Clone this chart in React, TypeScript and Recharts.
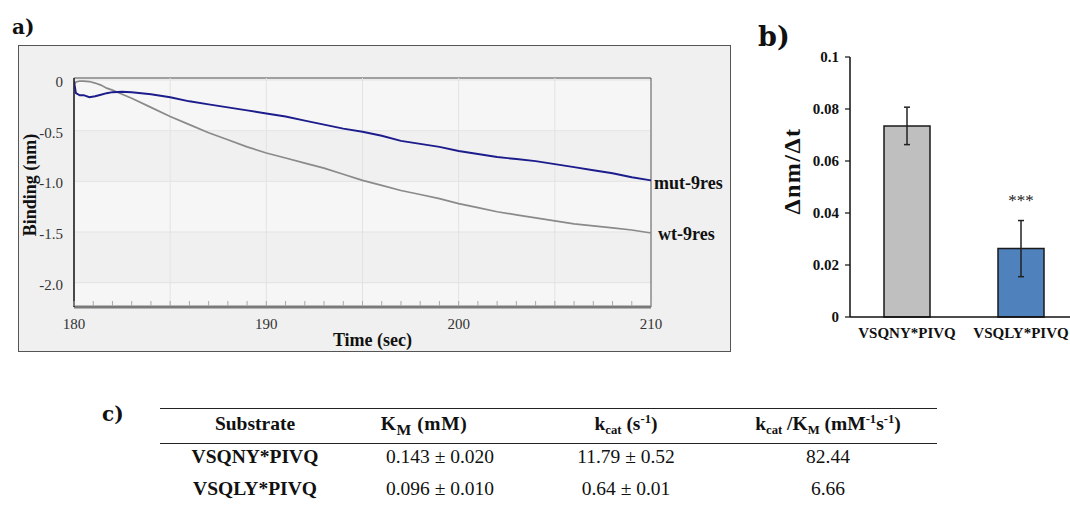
import React from 'react';
import {
  LineChart, Line, XAxis, YAxis, CartesianGrid, ReferenceLine, ReferenceArea,
  BarChart, Bar, Cell, ErrorBar, LabelList,
} from 'recharts';

const SERIF = '"Liberation Serif", "Times New Roman", serif';
const LETTER = '"DejaVu Serif", serif';

// ---------- Panel a: binding traces ----------
const timeSec = [180, 180.1, 180.3, 180.5, 180.8, 181.1, 181.4, 181.7, 182, 182.5, 183, 184,
  185, 186, 187, 188, 189, 190, 191, 192, 193, 194, 195, 196, 197, 198, 199, 200,
  201, 202, 203, 204, 205, 206, 207, 208, 209, 210];
const wtBinding = [-0.04, -0.02, -0.01, -0.01, -0.015, -0.03, -0.05, -0.08, -0.1, -0.14, -0.18, -0.27,
  -0.36, -0.44, -0.52, -0.59, -0.66, -0.72, -0.77, -0.82, -0.87, -0.93, -0.99, -1.04, -1.09, -1.13, -1.17, -1.22,
  -1.26, -1.3, -1.33, -1.36, -1.39, -1.42, -1.44, -1.46, -1.48, -1.51];
const mutBinding = [-0.01, -0.13, -0.15, -0.15, -0.17, -0.16, -0.145, -0.13, -0.12, -0.115, -0.12, -0.14,
  -0.17, -0.21, -0.24, -0.27, -0.3, -0.33, -0.36, -0.4, -0.44, -0.48, -0.51, -0.55, -0.6, -0.63, -0.66, -0.7,
  -0.73, -0.76, -0.78, -0.8, -0.83, -0.86, -0.89, -0.92, -0.96, -0.99];
const seriesNames = ['wt-9res', 'mut-9res'];
const bindingTicks = [0, -0.5, -1, -1.5, -2];
const timeMajorTicks = [180, 190, 200, 210];
const timeMinorTicks = [180, 181, 182, 183, 184, 185, 186, 187, 188, 189, 190, 191, 192, 193, 194, 195,
  196, 197, 198, 199, 200, 201, 202, 203, 204, 205, 206, 207, 208, 209, 210];
const timeGridLines = [185, 190, 195, 200, 205];

// ---------- Panel b: rates ----------
const substrates = ['VSQNY*PIVQ', 'VSQLY*PIVQ'];
const rates = [0.0735, 0.0263];
const rateErrors = [0.0072, 0.0108];
const significance = ['', '***'];
const barColors = ['#bfbfbf', '#4f81bd'];
const rateTicks = [0, 0.02, 0.04, 0.06, 0.08, 0.1];

// ---------- Panel c: kinetics table ----------
const kmValues = ['0.143 ± 0.020', '0.096 ± 0.010'];
const kcatValues = ['11.79 ± 0.52', '0.64 ± 0.01'];
const efficiencyValues = ['82.44', '6.66'];

const lineData = timeSec.map((t, i) => ({ t, wt: wtBinding[i], mut: mutBinding[i] }));
const barData = substrates.map((name, i) => ({ name, rate: rates[i], err: rateErrors[i], sig: significance[i] }));

const Y_DOMAIN: [number, number] = [-2.24, 0.02];

const TimeTick = (props: any) => {
  const { x, y, payload } = props;
  const v = payload.value;
  const major = timeMajorTicks.includes(v);
  return (
    <g>
      <line x1={x} y1={y - 1} x2={x} y2={y - 6} stroke="#a8a8a8" strokeWidth={1} />
      {major ? (
        <text x={x} y={y + 22} textAnchor="middle" fontSize={15} fill="#333" fontFamily={SERIF}>{v}</text>
      ) : null}
    </g>
  );
};

const endLabel = (text: string, dx: number, dy: number) => (props: any) => {
  const { x, y, index } = props;
  if (index !== timeSec.length - 1) return <g />;
  return (
    <text x={x + dx} y={y + dy} dominantBaseline="central" fontFamily={SERIF} fontWeight="bold" fontSize={18} fill="#111">
      {text}
    </text>
  );
};

const sigLabel = (props: any) => {
  const { x, y, width, value } = props;
  if (!value) return <g />;
  return (
    <text x={x + width / 2} y={y - 43} textAnchor="middle" fontFamily={SERIF} fontSize={17} fill="#222">{value}</text>
  );
};

const TableText = ({ cx, cy, bold, children }: any) => (
  <div style={{
    position: 'absolute', left: cx - 130, width: 260, top: cy - 12, height: 24, lineHeight: '24px',
    textAlign: 'center', fontFamily: SERIF, fontSize: 19.5, fontWeight: bold ? 'bold' : 'normal',
    color: '#111', whiteSpace: 'nowrap',
  }}>{children}</div>
);

const subStyle: React.CSSProperties = { fontSize: '0.65em', verticalAlign: '-0.3em', lineHeight: 0 };
const subStyleBig: React.CSSProperties = { fontSize: '0.8em', verticalAlign: '-0.3em', lineHeight: 0 };
const supStyle: React.CSSProperties = { fontSize: '0.65em', verticalAlign: '0.55em', lineHeight: 0 };

export default function App() {
  return (
    <div style={{ position: 'absolute', left: 0, top: 0, width: 1070, height: 507, overflow: 'hidden', background: '#fff' }}>
      {/* Panel a frame */}
      <div style={{
        position: 'absolute', left: 18, top: 45, width: 713, height: 307, boxSizing: 'border-box',
        border: '1.5px solid #555', background: '#f0f0f0',
      }} />
      <div style={{ position: 'absolute', left: 18, top: 45 }}>
        <LineChart width={713} height={307} data={lineData} margin={{ top: 33, right: 80, bottom: 0, left: 0 }}>
          <CartesianGrid vertical={false} stroke="#e3e3e3" horizontalFill={['#f0f0f0', '#f6f6f6']} fillOpacity={1} />
          {timeGridLines.map((g) => (
            <ReferenceLine key={g} x={g} stroke="#e2e2e2" strokeWidth={1} />
          ))}
          <ReferenceArea x1={180} x2={210} y1={Y_DOMAIN[0]} y2={Y_DOMAIN[1]} fill="none" stroke="#555" strokeWidth={1} ifOverflow="visible" />
          <XAxis
            type="number" dataKey="t" domain={[180, 210]} ticks={timeMinorTicks} interval={0}
            tick={(p: any) => <TimeTick {...p} />} tickLine={false} tickSize={0} tickMargin={0}
            height={45} axisLine={{ stroke: '#7a7a7a', strokeWidth: 3 }} allowDataOverflow
            label={(p: any) => {
              const vb = p.viewBox || { x: 56, y: 262, width: 577 };
              return (
                <text x={vb.x + vb.width / 2 + 10} y={vb.y + 33} textAnchor="middle" dominantBaseline="central"
                  fontFamily={SERIF} fontWeight="bold" fontSize={18} fill="#111">Time (sec)</text>
              );
            }}
          />
          <YAxis
            type="number" domain={Y_DOMAIN} ticks={bindingTicks} interval={0} allowDataOverflow
            tickFormatter={(v: number) => (v === 0 ? '0' : v.toFixed(1))}
            tick={{ fontSize: 15, fill: '#333', fontFamily: SERIF, dy: 1.5 }} tickLine={false} tickSize={0} tickMargin={11}
            width={56} axisLine={{ stroke: '#2a2a2a', strokeWidth: 1.5 }}
            label={(p: any) => {
              const vb = p.viewBox || { x: 0, y: 33, height: 229 };
              const cx = vb.x + 12;
              const cy = vb.y + vb.height / 2 - 7.5;
              return (
                <text x={cx} y={cy} transform={`rotate(-90, ${cx}, ${cy})`} textAnchor="middle" dominantBaseline="central"
                  fontFamily={SERIF} fontWeight="bold" fontSize={18} fill="#111">Binding (nm)</text>
              );
            }}
          />
          <Line type="linear" dataKey="wt" name={seriesNames[0]} stroke="#8a8a8a" strokeWidth={1.7} dot={false} isAnimationActive={false}>
            <LabelList dataKey="wt" content={endLabel(seriesNames[0], 7, 1)} />
          </Line>
          <Line type="linear" dataKey="mut" name={seriesNames[1]} stroke="#1c1c8c" strokeWidth={1.9} dot={false} isAnimationActive={false}>
            <LabelList dataKey="mut" content={endLabel(seriesNames[1], 3, 3)} />
          </Line>
        </LineChart>
      </div>

      {/* Panel b */}
      <div style={{ position: 'absolute', left: 760, top: 40 }}>
        <BarChart width={328} height={310} data={barData} margin={{ top: 17, right: 10, bottom: 0, left: 0 }} barSize={46}>
          <XAxis
            dataKey="name" height={33} tickLine={false} tickSize={0} tickMargin={10} interval={0}
            axisLine={{ stroke: '#111', strokeWidth: 1.5 }}
            tick={{ fontSize: 15, fontWeight: 'bold', fill: '#111', fontFamily: SERIF }}
          />
          <YAxis
            type="number" domain={[0, 0.1]} ticks={rateTicks} interval={0} width={90}
            tickFormatter={(v: number) => String(v)}
            tick={{ fontSize: 15, fontWeight: 'bold', fill: '#111', fontFamily: SERIF }}
            tickSize={5} tickMargin={6} tickLine={{ stroke: '#111', strokeWidth: 1.2 }}
            axisLine={{ stroke: '#111', strokeWidth: 1.5 }}
            label={(p: any) => {
              const vb = p.viewBox || { x: 0, y: 17, height: 260 };
              const cx = vb.x + 31.5;
              const cy = vb.y + vb.height / 2 - 16;
              return (
                <text x={cx} y={cy} transform={`rotate(-90, ${cx}, ${cy})`} textAnchor="middle" dominantBaseline="central"
                  fontFamily={SERIF} fontWeight="bold" fontSize={24} letterSpacing={1.5} fill="#111">Δnm/Δt</text>
              );
            }}
          />
          <Bar dataKey="rate" stroke="#1a1a1a" strokeWidth={1.5} isAnimationActive={false}>
            {barData.map((d, i) => (
              <Cell key={d.name} fill={barColors[i]} />
            ))}
            <ErrorBar dataKey="err" width={3} stroke="#222" strokeWidth={1.5} direction="y" />
            <LabelList dataKey="sig" content={sigLabel} />
          </Bar>
        </BarChart>
      </div>

      {/* Panel letters */}
      <svg width={1070} height={507} style={{ position: 'absolute', left: 0, top: 0, pointerEvents: 'none' }}>
        <text x={12} y={34} fontFamily={LETTER} fontWeight="bold" fontSize={20} fill="#111">a)</text>
        <text x={758} y={46} fontFamily={LETTER} fontWeight="bold" fontSize={27} fill="#111">b)</text>
        <text x={102} y={421} fontFamily={LETTER} fontWeight="bold" fontSize={20} fill="#111">c)</text>
      </svg>

      {/* Panel c table */}
      <div style={{ position: 'absolute', left: 160, top: 407.5, width: 777, height: 1.5, background: '#222' }} />
      <div style={{ position: 'absolute', left: 160, top: 442.5, width: 777, height: 1.5, background: '#222' }} />
      <TableText cx={255} cy={423.5} bold>Substrate</TableText>
      <TableText cx={424} cy={423.5} bold><span style={{ letterSpacing: 0.6 }}>K<sub style={subStyleBig}>M</sub> (mM)</span></TableText>
      <TableText cx={626} cy={423.5} bold>k<sub style={subStyle}>cat</sub> (s<sup style={supStyle}>-1</sup>)</TableText>
      <TableText cx={828} cy={423.5} bold>
        k<sub style={subStyle}>cat</sub> /K<sub style={subStyle}>M</sub> (mM<sup style={supStyle}>-1</sup>s<sup style={supStyle}>-1</sup>)
      </TableText>
      {substrates.map((s, i) => (
        <React.Fragment key={s}>
          <TableText cx={255} cy={457 + i * 31.5} bold>{s}</TableText>
          <TableText cx={440} cy={457 + i * 31.5}>{kmValues[i]}</TableText>
          <TableText cx={626} cy={457 + i * 31.5}>{kcatValues[i]}</TableText>
          <TableText cx={828} cy={457 + i * 31.5}>{efficiencyValues[i]}</TableText>
        </React.Fragment>
      ))}
    </div>
  );
}
